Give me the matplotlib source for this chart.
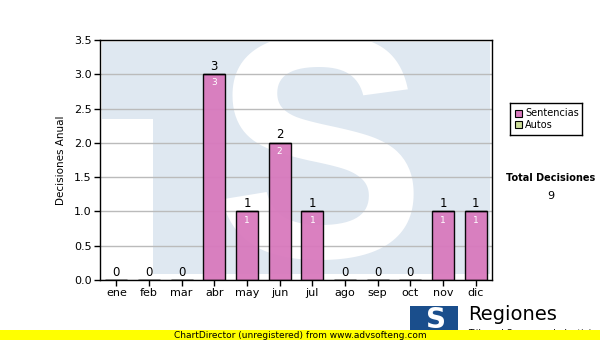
import numpy as np
import matplotlib.pyplot as plt
from matplotlib.patches import Rectangle

# Data
meses = ["ene", "feb", "mar", "abr", "may", "jun", "jul", "ago", "sep", "oct", "nov", "dic"]
sentencias = [0, 0, 0, 3, 1, 2, 1, 0, 0, 0, 1, 1]
autos = [0, 0, 0, 0, 0, 0, 0, 0, 0, 0, 0, 0]
total = sum(sentencias) + sum(autos)

pink = "#d879bd"
green = "#ccdd99"
wm_blue = "#dfe8f1"

fig = plt.figure(figsize=(6, 3.4), dpi=100)
ax = fig.add_axes([100 / 600, 60 / 340, 392 / 600, 240 / 340])

x = np.arange(len(meses))
ax.set_xlim(-0.5, len(meses) - 0.5)
ax.set_ylim(0, 3.5)

# watermark (light blue logo behind the plot)
ax.add_patch(Rectangle((0.005, 0.025), 0.99, 0.965, transform=ax.transAxes,
                       facecolor=wm_blue, edgecolor="none", zorder=0))
ax.add_patch(Rectangle((0.005, 0.0), 0.13, 0.67, transform=ax.transAxes,
                       facecolor="white", edgecolor="none", zorder=0))
ax.text(0.56, 0.44, "S", transform=ax.transAxes, fontsize=230, fontweight="bold",
        family="Liberation Sans", color="white", ha="center", va="center",
        zorder=0.5, clip_on=True)

ax.yaxis.grid(True, color="#bbbbbb", linewidth=1, zorder=1)
ax.set_axisbelow(True)

ax.bar(x, sentencias, width=0.68, color=pink, edgecolor="black",
       linewidth=1, zorder=2, alpha=0.95)
ax.bar(x, autos, width=0.68, bottom=sentencias, color=green, edgecolor="black",
       linewidth=1, zorder=2)

for xi, s, a in zip(x, sentencias, autos):
    tot = s + a
    ax.text(xi, tot + 0.02, str(tot), ha="center", va="bottom", fontsize=8.5,
            color="black", zorder=3)
    if s > 0:
        ax.text(xi, s - 0.06, str(s), ha="center", va="top", fontsize=6.5,
                color="white", zorder=3)

ax.set_xticks(x)
ax.set_xticklabels(meses, fontsize=8)
ax.set_yticks(np.arange(0, 3.51, 0.5))
ax.set_yticklabels([f"{v:.1f}" for v in np.arange(0, 3.51, 0.5)], fontsize=8)
ax.tick_params(direction="out", length=4, width=1, color="black", pad=2)
for sp in ax.spines.values():
    sp.set_color("black")
    sp.set_linewidth(1)
ax.set_ylabel("Decisiones Anual", fontsize=7.5, labelpad=6)

# legend box
lax = fig.add_axes([510 / 600, (340 - 135) / 340, 72 / 600, 32 / 340])
lax.set_xlim(0, 72)
lax.set_ylim(32, 0)
lax.set_xticks([])
lax.set_yticks([])
for sp in lax.spines.values():
    sp.set_linewidth(1)
lax.add_patch(Rectangle((5, 7), 7, 7, facecolor=pink, edgecolor="black", linewidth=0.8))
lax.add_patch(Rectangle((5, 18), 7, 7, facecolor=green, edgecolor="black", linewidth=0.8))
lax.text(15, 10.5, "Sentencias", fontsize=7, va="center")
lax.text(15, 21.5, "Autos", fontsize=7, va="center")

fig.text(551 / 600, 1 - 178 / 340, "Total Decisiones", fontsize=7,
         fontweight="bold", ha="center", va="center")
fig.text(551 / 600, 1 - 196 / 340, str(total), fontsize=8, ha="center", va="center")

# logo at bottom right
fig.patches.append(Rectangle((410 / 600, 1 - 332 / 340), 48 / 600, 26 / 340,
                             transform=fig.transFigure, facecolor="#1a4e8c",
                             edgecolor="none", figure=fig))
fig.text(436 / 600, 1 - 320 / 340, "S", fontsize=20, fontweight="bold",
         color="white", ha="center", va="center")
fig.text(468 / 600, 1 - 315 / 340, "Regiones", fontsize=14, ha="left",
         va="center")
fig.text(468 / 600, 1 - 333 / 340, "Tribunal Supremo de Justicia", fontsize=6.5,
         ha="left", va="center")

# yellow footer
fig.patches.append(Rectangle((0, 0), 1, 10 / 340, transform=fig.transFigure,
                             facecolor="#ffff00", edgecolor="none", figure=fig,
                             zorder=5))
fig.text(0.5, 5 / 340, "ChartDirector (unregistered) from www.advsofteng.com",
         fontsize=6.5, ha="center", va="center", zorder=6)

fig.savefig("out.png", dpi=100)
